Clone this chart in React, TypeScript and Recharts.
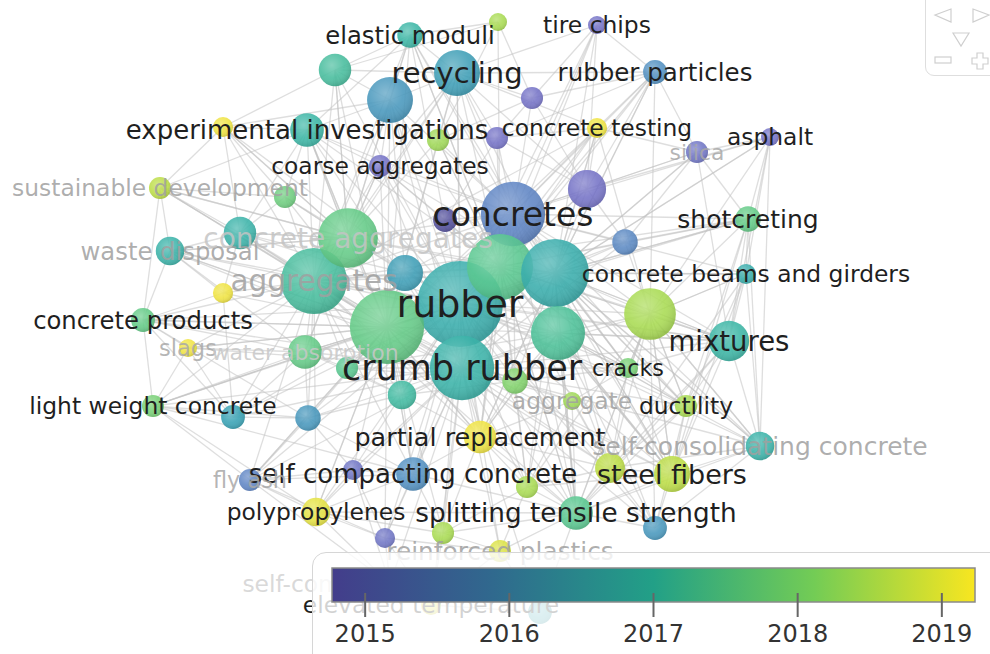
import {
  ScatterChart,
  Scatter,
  XAxis,
  YAxis,
  ZAxis,
  ReferenceLine,
  ComposedChart,
  ReferenceArea,
  Line,
} from 'recharts';

// keywords of the overlay map ('' = label not shown by the map)
const KEYWORDS = [
  'rubber', 'crumb rubber', 'concretes', 'aggregates', 'recycling', '', 'elastic moduli', 'tire chips',
  'rubber particles', 'experimental investigations', 'concrete testing', 'asphalt', 'coarse aggregates', 'silica',
  'sustainable development', 'shotcreting', 'waste disposal', 'concrete beams and girders', 'concrete products',
  'mixtures', 'cracks', 'slags', 'water absorption', 'light weight concrete', 'ductility', 'aggregate',
  'partial replacement', 'self-consolidating concrete', 'self compacting concrete', 'steel fibers', 'fly ash',
  'polypropylenes', 'splitting tensile strength', 'reinforced plastics', 'elevated temperature',
  'self-compacting concrete', '', '', '', '', '', '', '', '', 'concrete aggregates', '', '', '', '', '', '', '',
  '', '', '', '', '', '', '', '', '', '', '', '', '', '', '',
];
const LAYOUT_X = [
  460, 462, 513, 314, 457, 390, 410, 597, 655, 307, 597, 770, 380, 697, 160, 748, 170, 746, 143, 729, 628, 188,
  305, 153, 686, 572, 480, 760, 413, 672, 250, 316, 576, 500, 431, 390, 335, 498, 532, 497, 438, 223, 285, 240,
  348, 405, 223, 387, 500, 555, 558, 445, 587, 625, 650, 515, 402, 308, 233, 353, 527, 655, 385, 443, 347, 610,
  540,
];
const LAYOUT_Y = [
  304, 368, 214, 281, 73, 100, 35, 25, 72, 130, 128, 137, 166, 152, 188, 219, 251, 274, 320, 341, 368, 348, 352,
  406, 406, 401, 437, 446, 474, 474, 480, 512, 513, 551, 605, 584, 70, 22, 98, 138, 140, 127, 197, 233, 238, 273,
  293, 327, 267, 273, 333, 220, 189, 242, 314, 381, 395, 418, 417, 470, 487, 528, 538, 533, 368, 468, 612,
];
const OCCURRENCES = [
  91, 51, 51, 54, 26, 26, 8, 4, 7, 14, 5, 4, 6, 6, 6, 8, 10, 5, 7, 20, 5, 4, 14, 6, 6, 4, 13, 10, 14, 16, 6, 10,
  14, 6, 5, 4, 13, 4, 6, 6, 6, 5, 6, 13, 44, 16, 5, 68, 54, 57, 36, 7, 18, 8, 33, 8, 10, 8, 7, 5, 6, 7, 5, 6, 6,
  11, 7,
];
const AVG_YEAR = [
  2016.8, 2016.9, 2015.7, 2017.2, 2016.4, 2016.2, 2017.0, 2015.2, 2016.0, 2017.0, 2019.0, 2015.2, 2015.2, 2015.3,
  2018.5, 2017.6, 2016.9, 2016.8, 2017.6, 2017.0, 2017.8, 2019.0, 2017.6, 2017.8, 2018.3, 2018.2, 2019.0, 2016.9,
  2016.0, 2018.5, 2015.7, 2018.9, 2017.5, 2018.8, 2018.9, 2015.3, 2017.2, 2018.3, 2015.2, 2015.2, 2018.2, 2019.0,
  2017.7, 2016.9, 2017.6, 2016.4, 2019.0, 2017.6, 2017.5, 2016.8, 2017.3, 2014.8, 2015.2, 2015.8, 2018.3, 2017.9,
  2017.1, 2016.2, 2016.5, 2015.3, 2018.3, 2016.2, 2015.3, 2018.3, 2017.5, 2018.5, 2016.6,
];
// co-occurrence links, LINKS[i] = neighbours of node i
const LINKS: number[][] = [
  [1, 2, 3, 4, 5, 44, 47, 48, 49, 50, 52, 54, 19, 26, 28, 29, 32, 9, 22, 36, 56, 64, 6, 7, 8, 10, 12, 15, 16, 18,
    20, 23, 24, 27, 30, 31, 33, 41, 42, 43, 45, 53, 55, 57, 58, 59, 60, 61, 62, 63, 65],
  [2, 3, 4, 47, 48, 49, 50, 54, 19, 26, 28, 29, 32, 20, 24, 25, 23, 31, 57, 60, 5, 9, 12, 16, 18, 21, 22, 27, 30,
    33, 35, 43, 45, 53, 55, 56, 58, 59, 61, 62, 63, 64, 65, 66, 34],
  [3, 4, 5, 10, 12, 52, 53, 48, 49, 15, 17, 19, 8, 11, 13, 39, 6, 7, 9, 20, 24, 27, 29, 32, 38, 40, 44, 45, 47,
    50, 51, 54, 55, 26, 28],
  [4, 5, 9, 12, 14, 16, 18, 21, 22, 23, 30, 43, 44, 45, 46, 47, 28, 31, 6, 10, 15, 19, 26, 32, 36, 41, 42, 48, 49,
    50, 56, 57, 58, 64, 29],
  [5, 6, 7, 8, 36, 38, 39, 40, 10, 12, 44, 47, 48, 49, 52],
  [6, 9, 36, 12, 44, 45, 41, 47, 48],
  [36, 37, 9, 44, 47, 48, 49],
  [8, 38, 48, 49, 52],
  [38, 39, 10, 13, 49, 54, 52, 48],
  [41, 42, 44, 14, 47, 43, 12, 48],
  [13, 39, 52, 49, 54, 47],
  [13, 15, 17, 52, 54, 19, 49, 27],
  [44, 47, 48, 51, 49],
  [15, 52, 53, 19, 49],
  [41, 16, 43, 18, 42, 47, 44],
  [17, 53, 54, 19, 24, 29, 27, 49],
  [43, 18, 46, 22, 47, 44],
  [19, 54, 24, 27, 29, 32, 49],
  [21, 23, 22, 46, 47, 57, 58],
  [20, 24, 27, 29, 32, 54, 65, 50, 48, 49],
  [24, 25, 29, 55, 65, 50, 48, 49, 54],
  [23, 22, 58, 47],
  [23, 58, 57, 47, 56, 64, 44],
  [58, 57, 30, 31, 28, 47],
  [27, 29, 32, 65, 61, 49, 50, 54],
  [26, 55, 60, 65, 32],
  [28, 32, 60, 55, 56, 63, 65, 47, 48, 49, 50],
  [29, 32, 61, 65, 49, 54],
  [30, 31, 32, 57, 59, 62, 63, 56, 47],
  [32, 60, 61, 65, 54, 48, 49, 50],
  [31, 57, 59, 62, 35, 47],
  [59, 62, 63, 32, 35, 47],
  [33, 60, 61, 63, 66, 65, 48, 49, 50, 54],
  [62, 63, 34, 66, 60],
  [35, 62, 63, 66],
  [62, 59],
  [37, 41, 44, 47],
  [38, 40, 48],
  [39, 40, 52],
  [40, 52, 51],
  [44, 47, 48],
  [42, 43, 44],
  [43, 44, 47],
  [44, 45, 46, 47],
  [45, 47, 48, 49, 9, 14, 16, 22, 36, 41, 42, 43, 46, 12],
  [47, 48],
  [47, 58],
  [48, 49, 50, 56, 64, 55, 9, 14, 16, 18, 21, 22, 23, 26, 28, 30, 31, 57, 58, 59, 62, 63, 65],
  [49, 50, 52, 53, 6, 10, 15, 19, 20, 26, 29, 32, 39, 40, 51, 54, 55, 60, 65],
  [50, 52, 53, 54, 8, 10, 11, 13, 15, 17, 19, 20, 24, 26, 27, 29, 32, 55, 60, 61, 65],
  [54, 55, 65, 19, 20, 24, 26, 29, 32, 56, 60, 61, 64],
  [],
  [53],
  [54],
  [65, 17, 20, 24, 27, 29, 32, 60, 61],
  [56, 60, 64],
  [57, 64],
  [58, 59],
  [],
  [62],
  [63, 65],
  [65],
  [], [], [], [], [],
];

const YEAR_TICKS = [2015, 2016, 2017, 2018, 2019];
const YEAR_RANGE = [2014.77, 2019.23];

// label fill for dimmed labels
const FADED: Record<string, string> = {
  aggregates: '#a0a0a0', 'concrete aggregates': '#c4c4c4', 'sustainable development': '#a0a0a0',
  'waste disposal': '#a0a0a0', slags: '#a8a8a8', 'water absorption': '#c8c8c8', silica: '#a8a8a8',
  aggregate: '#a0a0a0', 'self-consolidating concrete': '#a0a0a0', 'fly ash': '#a8a8a8',
  'reinforced plastics': '#a0a0a0', 'self-compacting concrete': '#d2d2d2',
};
const LABEL_FONT: Record<string, number> = {
  rubber: 38, 'crumb rubber': 35, concretes: 33, aggregates: 29.5, 'concrete aggregates': 28, recycling: 29,
  mixtures: 27.5, 'experimental investigations': 26, 'self compacting concrete': 26, 'steel fibers': 27,
  'partial replacement': 25.5, 'splitting tensile strength': 26.3, shotcreting: 25, 'rubber particles': 24.5,
  'elastic moduli': 24.3, 'concrete products': 24.3, 'waste disposal': 24.3, 'self-consolidating concrete': 25,
  'reinforced plastics': 24.8, cracks: 22.3, slags: 22.5, silica: 21.8, 'fly ash': 22.4, 'water absorption': 22,
};

const NODE_STOPS: [number, string][] = [
  [2014.8, '#4b4897'], [2015.2, '#6e6cc4'], [2016, '#4b8cbf'], [2016.5, '#2f9db0'], [2017, '#33b3a2'],
  [2017.5, '#52c58b'], [2018, '#88d45e'], [2018.5, '#b9dc3e'], [2019, '#efe23a'],
];
const BAR_STOPS = ['#433d8b', '#30698e', '#22a087', '#73cc55', '#f8e620'];

const hex = (c: string) => [1, 3, 5].map((i) => parseInt(c.slice(i, i + 2), 16));
function yearColor(v: number) {
  if (v <= NODE_STOPS[0][0]) return NODE_STOPS[0][1];
  for (let i = 1; i < NODE_STOPS.length; i++) {
    if (v <= NODE_STOPS[i][0]) {
      const [a, ca] = NODE_STOPS[i - 1];
      const [b, cb] = NODE_STOPS[i];
      const t = (v - a) / (b - a);
      const pa = hex(ca);
      const pb = hex(cb);
      return `rgb(${pa.map((c, k) => Math.round(c + (pb[k] - c) * t)).join(',')})`;
    }
  }
  return NODE_STOPS[NODE_STOPS.length - 1][1];
}

const nodes = KEYWORDS.map((name, i) => ({
  name,
  x: LAYOUT_X[i],
  y: LAYOUT_Y[i],
  occ: OCCURRENCES[i],
  year: AVG_YEAR[i],
}));
const edges = LINKS.flatMap((list, i) => list.map((j) => [i, j]));

const FONT = '"DejaVu Sans", Verdana, sans-serif';

const Bubble = (p: any) => (
  <g>
    <circle cx={p.cx} cy={p.cy} r={p.width / 2} fill={yearColor(p.payload.year)} fillOpacity={0.88} />
    <circle cx={p.cx} cy={p.cy} r={p.width / 2} fill="url(#shade)" />
  </g>
);

const Label = (p: any) => {
  const name = p.payload.name;
  if (!name) return <g />;
  const faded = FADED[name];
  return (
    <text
      x={p.cx}
      y={p.cy}
      textAnchor="middle"
      dominantBaseline="central"
      fontFamily={FONT}
      fontSize={LABEL_FONT[name] ?? 23.4}
      fill={faded ?? '#1f1f1f'}
      fillOpacity={faded ? 0.85 : 1}
    >
      {name}
    </text>
  );
};

function NavWidget() {
  return (
    <div style={{ position: 'absolute', left: 925, top: -10, width: 80, height: 84, border: '1px solid #dedede', borderRadius: 9, background: 'white' }}>
      <svg width={80} height={84} style={{ position: 'absolute', left: -1, top: -1 }}>
        <g fill="none" stroke="#cfcfcf" strokeWidth={1.2}>
          <polygon points="26,19 10,25 26,32" />
          <polygon points="48,19 64,25 48,32" />
          <polygon points="28,43 44,43 36,56" />
          <rect x={10} y={67} width={16} height={6} />
          <path d="M52,63 h6 v5 h5 v6 h-5 v5 h-6 v-5 h-5 v-6 h5 z" />
        </g>
      </svg>
    </div>
  );
}

function ColorBar() {
  const data = YEAR_TICKS.map((year) => ({ year, v: 0 }));
  return (
    <div style={{ position: 'absolute', left: 312, top: 552, width: 700, height: 120, border: '1px solid #d6d6d6', borderRadius: 14, background: 'rgba(255,255,255,0.8)' }}>
      <ComposedChart width={678} height={102} data={data} margin={{ top: 16, right: 15, left: 20, bottom: 0 }} style={{ position: 'absolute', left: -1, top: -1 }}>
        <defs>
          <linearGradient id="cbar" x1="0" y1="0" x2="1" y2="0">
            {BAR_STOPS.map((c, i) => (
              <stop key={c} offset={`${(i / (BAR_STOPS.length - 1)) * 100}%`} stopColor={c} />
            ))}
          </linearGradient>
        </defs>
        <XAxis
          dataKey="year"
          type="number"
          domain={YEAR_RANGE}
          ticks={YEAR_TICKS}
          axisLine={false}
          tickLine={false}
          height={37}
          tick={{ fontSize: 24, fill: '#333', fontFamily: FONT }}
        />
        <YAxis hide dataKey="v" type="number" domain={[0, 1]} />
        <Line dataKey="v" stroke="none" dot={false} isAnimationActive={false} />
        <ReferenceArea x1={YEAR_RANGE[0]} x2={YEAR_RANGE[1]} y1={0.306} y2={1} fill="url(#cbar)" fillOpacity={1} stroke="#8a8a8a" strokeWidth={1.5} ifOverflow="visible" />
        {YEAR_TICKS.map((y) => (
          <ReferenceLine key={y} segment={[{ x: y, y: 0 }, { x: y, y: 0.49 }]} stroke="#666" strokeWidth={2} ifOverflow="visible" />
        ))}
      </ComposedChart>
    </div>
  );
}

export default function App() {
  return (
    <div style={{ position: 'absolute', left: 0, top: 0, width: 990, height: 654, overflow: 'hidden', background: 'white' }}>
      <ScatterChart width={990} height={654} margin={{ top: 0, right: 0, bottom: 0, left: 0 }}>
        <defs>
          <radialGradient id="shade" cx="40%" cy="35%" r="65%">
            <stop offset="0%" stopColor="#ffffff" stopOpacity={0.28} />
            <stop offset="60%" stopColor="#ffffff" stopOpacity={0.04} />
            <stop offset="100%" stopColor="#000000" stopOpacity={0.12} />
          </radialGradient>
        </defs>
        <XAxis hide type="number" dataKey="x" domain={[0, 990]} />
        <YAxis hide type="number" dataKey="y" domain={[0, 654]} reversed />
        <ZAxis type="number" dataKey="occ" domain={[0, 100]} range={[0, 6362]} />
        {edges.map(([a, b]) => (
          <ReferenceLine
            key={`${a}-${b}`}
            segment={[{ x: nodes[a].x, y: nodes[a].y }, { x: nodes[b].x, y: nodes[b].y }]}
            stroke="#c2c2c2"
            strokeOpacity={0.55}
            strokeWidth={1.3}
          />
        ))}
        <Scatter data={nodes} shape={Bubble} isAnimationActive={false} />
        <Scatter data={nodes} shape={Label} isAnimationActive={false} />
      </ScatterChart>
      <ColorBar />
      <NavWidget />
    </div>
  );
}
